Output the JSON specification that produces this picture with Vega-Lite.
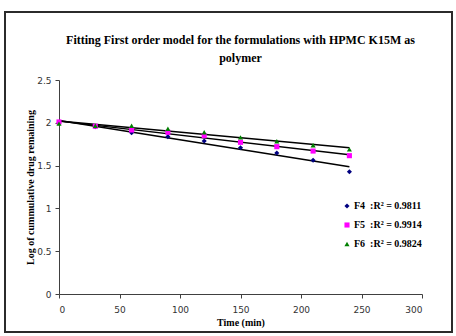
{
  "$schema": "https://vega.github.io/schema/vega-lite/v6.json",
  "width": 363,
  "height": 214,
  "autosize": {"type": "none"},
  "padding": {"left": 59, "top": 80, "right": 34, "bottom": 42},
  "background": "white",
  "title": {
    "text": ["Fitting First order model for the formulations with HPMC K15M as", "polymer"],
    "font": "Liberation Serif",
    "fontSize": 12,
    "fontWeight": "bold",
    "color": "black",
    "anchor": "middle",
    "frame": "group",
    "lineHeight": 18,
    "offset": -54
  },
  "data": {
    "values": [
      {"time": 0, "series": "F4", "logRemaining": 2.0},
      {"time": 30, "series": "F4", "logRemaining": 1.955},
      {"time": 60, "series": "F4", "logRemaining": 1.885},
      {"time": 90, "series": "F4", "logRemaining": 1.838},
      {"time": 120, "series": "F4", "logRemaining": 1.787},
      {"time": 150, "series": "F4", "logRemaining": 1.709},
      {"time": 180, "series": "F4", "logRemaining": 1.647},
      {"time": 210, "series": "F4", "logRemaining": 1.562},
      {"time": 240, "series": "F4", "logRemaining": 1.429},
      {"time": 0, "series": "F5", "logRemaining": 2.01},
      {"time": 30, "series": "F5", "logRemaining": 1.96},
      {"time": 60, "series": "F5", "logRemaining": 1.916},
      {"time": 90, "series": "F5", "logRemaining": 1.889},
      {"time": 120, "series": "F5", "logRemaining": 1.85},
      {"time": 150, "series": "F5", "logRemaining": 1.772},
      {"time": 180, "series": "F5", "logRemaining": 1.721},
      {"time": 210, "series": "F5", "logRemaining": 1.67},
      {"time": 240, "series": "F5", "logRemaining": 1.616},
      {"time": 0, "series": "F6", "logRemaining": 1.99},
      {"time": 30, "series": "F6", "logRemaining": 1.965},
      {"time": 60, "series": "F6", "logRemaining": 1.966},
      {"time": 90, "series": "F6", "logRemaining": 1.931},
      {"time": 120, "series": "F6", "logRemaining": 1.889},
      {"time": 150, "series": "F6", "logRemaining": 1.83},
      {"time": 180, "series": "F6", "logRemaining": 1.784},
      {"time": 210, "series": "F6", "logRemaining": 1.737},
      {"time": 240, "series": "F6", "logRemaining": 1.69}
    ]
  },
  "layer": [
    {
      "description": "Chart-area frame",
      "data": {"values": [{}]},
      "mark": {"type": "rect", "fill": null, "stroke": "#2b2b2b", "strokeWidth": 2},
      "encoding": {
        "x": {"value": -54},
        "x2": {"value": 393},
        "y": {"value": -68},
        "y2": {"value": 252}
      }
    },
    {
      "description": "Linear first-order trendlines",
      "transform": [
        {"regression": "logRemaining", "on": "time", "groupby": ["series"], "extent": [0, 240]}
      ],
      "mark": {"type": "line", "color": "black", "strokeWidth": 1.5},
      "encoding": {
        "x": {"field": "time", "type": "quantitative"},
        "y": {"field": "logRemaining", "type": "quantitative"},
        "detail": {"field": "series"}
      }
    },
    {
      "mark": {"type": "point", "filled": true, "size": 26, "opacity": 1},
      "encoding": {
        "x": {
          "field": "time",
          "type": "quantitative",
          "title": "Time (min)",
          "scale": {"domain": [0, 300], "nice": false},
          "axis": {"values": [0, 50, 100, 150, 200, 250, 300], "labelPadding": 7, "titlePadding": 3}
        },
        "y": {
          "field": "logRemaining",
          "type": "quantitative",
          "title": "Log of cummulative drug remaining",
          "scale": {"domain": [0, 2.5], "nice": false},
          "axis": {"values": [0, 0.5, 1, 1.5, 2, 2.5], "format": "~g", "labelPadding": 4, "titlePadding": 1}
        },
        "color": {
          "field": "series",
          "type": "nominal",
          "scale": {"domain": ["F4", "F5", "F6"], "range": ["#000080", "#ff00ff", "#008000"]},
          "legend": {
            "orient": "none",
            "legendX": 283,
            "legendY": 121,
            "title": null,
            "padding": 0,
            "rowPadding": 9,
            "symbolSize": 26,
            "labelOffset": 2,
            "labelFont": "Liberation Serif",
            "labelFontSize": 10,
            "labelFontWeight": "bold",
            "labelColor": "black",
            "labelExpr": "datum.label == 'F4' ? 'F4\u00a0\u00a0:R² = 0.9811' : datum.label == 'F5' ? 'F5\u00a0\u00a0:R² = 0.9914' : 'F6\u00a0\u00a0:R² = 0.9824'"
          }
        },
        "shape": {
          "field": "series",
          "type": "nominal",
          "scale": {"domain": ["F4", "F5", "F6"], "range": ["diamond", "square", "triangle-up"]}
        }
      }
    }
  ],
  "config": {
    "view": {"stroke": null},
    "axis": {
      "grid": false,
      "domainColor": "#404040",
      "tickColor": "#404040",
      "tickSize": 4,
      "labelFont": "DejaVu Sans",
      "labelFontSize": 9,
      "labelColor": "#333333",
      "titleFont": "Liberation Serif",
      "titleFontSize": 10,
      "titleFontWeight": "bold",
      "titleColor": "black"
    }
  }
}
